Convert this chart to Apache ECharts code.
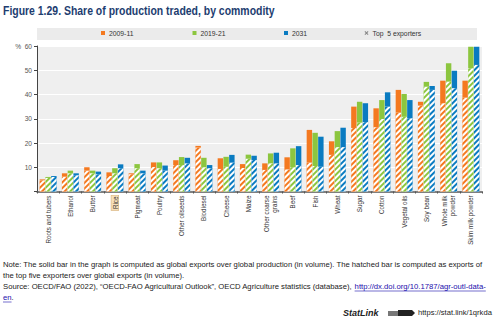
<!DOCTYPE html>
<html>
<head>
<meta charset="utf-8">
<script src="https://cdn.jsdelivr.net/npm/echarts@6/dist/echarts.min.js"></script>
<style>
html,body{margin:0;padding:0;background:#fff;}
#chart{width:499px;height:321px;}
</style>
</head>
<body>
<div id="chart"></div>
<script>
const categories = ['Roots and tubers','Ethanol','Butter','Rice','Pigmeat','Poultry','Other oilseeds','Biodiesel','Cheese','Maize','Other coarse\ngrains','Beef','Fish','Wheat','Sugar','Cotton','Vegetal oils','Soy bean','Whole milk\npowder','Skim milk powder'];
const seriesNames = ['2009-11','2019-21','2031'];
const legendTop5 = 'Top  5 exporters';
// solid bar: global exports over global production (%)
const traded2009 = [5.0, 7.5, 10.0, 7.9, 7.5, 12.0, 12.9, 18.8, 13.7, 11.3, 11.6, 14.1, 25.4, 20.7, 35.0, 34.3, 41.9, 37.0, 45.7, 45.7];
const traded2019 = [6.0, 8.6, 8.6, 9.6, 11.3, 12.0, 14.2, 13.9, 14.3, 15.2, 15.7, 17.8, 24.2, 24.9, 37.0, 37.7, 40.2, 45.2, 52.9, 59.7];
const traded2031 = [6.4, 7.5, 8.2, 11.2, 8.6, 10.7, 13.9, 10.9, 15.1, 14.7, 16.0, 18.7, 22.6, 26.3, 36.4, 40.9, 37.7, 43.5, 49.8, 59.7];
// hatched bar: top five exporters share (%)
const top5_2009 = [4.6, 6.1, 8.6, 6.4, 7.1, 10.1, 10.9, 18.1, 9.3, 9.7, 8.9, 9.1, 11.9, 15.1, 26.2, 26.5, 32.5, 35.4, 36.4, 38.7];
const top5_2019 = [5.6, 7.5, 7.5, 7.5, 9.6, 9.6, 10.9, 10.0, 10.2, 13.5, 11.6, 10.0, 10.5, 18.3, 28.4, 29.9, 30.8, 43.2, 45.3, 50.8];
const top5_2031 = [6.0, 6.7, 7.1, 9.6, 7.5, 8.6, 11.6, 9.6, 11.9, 13.0, 11.6, 10.9, 10.2, 18.3, 28.6, 35.0, 30.2, 41.9, 42.6, 52.2];
const yTicks = [0, 10, 20, 30, 40, 50, 60];

const colors = ['#f47920', '#8cc63f', '#0a7bc1'];
const SANS = "'Liberation Sans',Arial,sans-serif";

const chart = echarts.init(document.getElementById('chart'), null, {renderer: 'svg', width: 499, height: 321});

const traded = [traded2009, traded2019, traded2031];
const top5 = [top5_2009, top5_2019, top5_2031];
const barCfg = {barGap: '6%', barCategoryGap: '24%'};

const series = [];
seriesNames.forEach((n, i) => {
  series.push(Object.assign({
    name: n, type: 'bar', xAxisIndex: 0, yAxisIndex: 0,
    data: traded[i], itemStyle: {color: colors[i]},
    emphasis: {disabled: true}
  }, barCfg));
});
seriesNames.forEach((n, i) => {
  series.push(Object.assign({
    name: n, type: 'bar', xAxisIndex: 1, yAxisIndex: 0,
    data: top5[i],
    itemStyle: {
      color: '#ffffff',
      decal: {symbol: 'rect', symbolSize: 1, dashArrayX: [1, 0], dashArrayY: [2, 1.6], rotation: -Math.PI / 4, color: colors[i]}
    },
    emphasis: {disabled: true}
  }, barCfg));
});
series.push({name: legendTop5, type: 'line', data: [], itemStyle: {color: '#888'}});

// measure helper for text layout
const mctx = document.createElement('canvas').getContext('2d');
function tw(text, font) { mctx.font = font; return mctx.measureText(text).width; }

const titleText = 'Figure 1.29. Share of production traded, by commodity';
const titleFont = 'bold 12.8px ' + SANS;
const titleScale = 272 / tw(titleText, titleFont);

const noteFont = '7.7px ' + SANS;
const line1 = 'Note: The solid bar in the graph is computed as global exports over global production (in volume). The hatched bar is computed as exports of';
const noteScale = Math.min(1, 493 / tw(line1, noteFont));
const srcPre = 'Source: OECD/FAO (2022), \u201cOECD-FAO Agricultural Outlook\u201d, OECD Agriculture statistics (database), ';
const srcLink = 'http://dx.doi.org/10.1787/agr-outl-data-';
const linkX = 3 + tw(srcPre, noteFont) * noteScale;
const linkW = tw(srcLink, noteFont) * noteScale;
const enW = tw('en', noteFont) * noteScale;

const noteStyle = {fill: '#222', font: noteFont};
function noteText(text, x, y, fill) {
  return {type: 'text', x: x, y: y, scaleX: noteScale, style: {text: text, fill: fill || '#222', font: noteFont}};
}

const legendText = {fontSize: 6.8, color: '#333', fontFamily: SANS, padding: [0, 0, 0, -1]};
function legendAt(name, left, icon) {
  return {left: left, top: 29.5, padding: 0, itemWidth: 4, itemHeight: 4, selectedMode: false,
    textStyle: legendText, data: [{name: name, icon: icon || 'rect'}]};
}

const option = {
  animation: false,
  backgroundColor: '#ffffff',
  grid: {left: 37, right: 17, top: 46, bottom: 129.5, show: true, backgroundColor: '#efefef', borderWidth: 0},
  legend: [
    legendAt('2009-11', 101),
    legendAt('2019-21', 192.5),
    legendAt('2031', 284),
    legendAt(legendTop5, 364.5, 'path://M0,8L8,0L10,2L2,10Z M0,2L2,0L10,8L8,10Z')
  ],
  xAxis: [
    {
      type: 'category', data: categories, gridIndex: 0,
      axisLine: {lineStyle: {color: '#555', width: 1.5}},
      axisTick: {show: true, length: 2, lineStyle: {color: '#555'}},
      axisLabel: {
        rotate: 90, fontSize: 6.3, color: '#333', margin: 4, fontFamily: SANS, lineHeight: 7.5,
        interval: 0,
        formatter: v => v === 'Rice' ? '{hl|Rice}' : v,
        rich: {hl: {backgroundColor: '#f6dfb9', borderColor: '#d9b47c', borderWidth: 0.6, padding: [1, 1, 0, 1], fontSize: 6.3, fontFamily: SANS, color: '#333'}}
      }
    },
    {type: 'category', data: categories, gridIndex: 0, show: false}
  ],
  yAxis: {
    type: 'value', min: yTicks[0], max: yTicks[yTicks.length - 1], interval: 10,
    axisLine: {show: true, lineStyle: {color: '#444', width: 1}},
    axisTick: {show: true, length: 3, lineStyle: {color: '#444'}},
    axisLabel: {fontSize: 6.6, color: '#555', margin: 5, fontFamily: SANS,
      formatter: v => v === 60 ? '%  60' : (v === 0 ? '' : String(v))},
    splitLine: {lineStyle: {color: '#ffffff', width: 1}}
  },
  series: series,
  graphic: [
    {type: 'rect', z: -1, shape: {x: 37, y: 28, width: 440, height: 12}, style: {fill: '#ebebeb'}, silent: true},
    {type: 'text', x: 3, y: 4, scaleX: titleScale, style: {text: titleText, fill: '#1d3d70', font: titleFont}},
    noteText(line1, 3, 260.5),
    noteText('the top five exporters over global exports (in volume).', 3, 271),
    noteText(srcPre, 3, 282),
    noteText(srcLink, linkX, 282, '#1a0dab'),
    {type: 'line', shape: {x1: linkX, y1: 291, x2: linkX + linkW, y2: 291}, style: {stroke: '#1a0dab', lineWidth: 0.6}},
    noteText('en', 3, 293, '#1a0dab'),
    {type: 'line', shape: {x1: 3, y1: 302, x2: 3 + enW, y2: 302}, style: {stroke: '#1a0dab', lineWidth: 0.6}},
    noteText('.', 3 + enW, 293),
    {type: 'text', x: 343, y: 308, style: {text: 'StatLink', fill: '#222', font: 'italic bold 9px ' + SANS}},
    {type: 'group', x: 388, y: 310, children: [
      {type: 'rect', shape: {x: 0, y: 1, width: 10, height: 5}, style: {fill: '#777'}},
      {type: 'rect', shape: {x: 10, y: 0, width: 14, height: 6}, style: {fill: '#222'}},
      {type: 'polygon', shape: {points: [[24, 0], [27, 3], [24, 6]]}, style: {fill: '#222'}}
    ]},
    {type: 'text', x: 418, y: 308.5, style: {text: 'https://stat.link/1qrkda', fill: '#222', font: '7.6px ' + SANS}}
  ]
};
chart.setOption(option);
</script>
</body>
</html>
